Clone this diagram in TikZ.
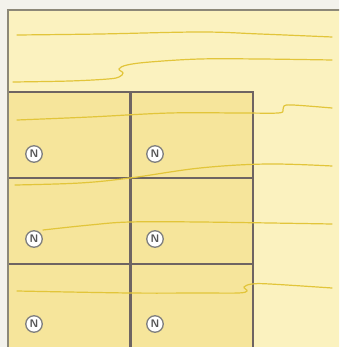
\documentclass[tikz,border=0pt]{standalone}
\usepackage{xcolor}
\usepackage{tikz}
\usetikzlibrary{positioning,calc}
\definecolor{paper}{HTML}{f3f2ec}
\definecolor{board}{HTML}{fbf2bf}
\definecolor{cell}{HTML}{f6e59b}
\definecolor{grain}{HTML}{e2c53a}
\definecolor{edge}{HTML}{8c8878}
\definecolor{gridline}{HTML}{6e6462}
\definecolor{mark}{HTML}{555555}

\begin{document}
\begin{tikzpicture}[
    x=1pt, y=-1pt,
    boardrect/.style={fill=board, draw=edge, line width=1.6pt},
    cellrect/.style={fill=cell, draw=gridline, line width=1.1pt},
    grainline/.style={draw=grain, line width=1.2pt, line cap=round},
    nmark/.style={
        circle, draw=mark!75, fill=white, text=mark, line width=1.3pt,
        minimum size=16.5pt, inner sep=0pt,
        font=\sffamily\bfseries\fontsize{11}{11}\selectfont
    },
]

% Rahmen
\clip (0,0) rectangle (339,347);
\fill[paper] (0,0) rectangle (339,347);
\draw[boardrect] (8,10) rectangle (360,370);

% Felder
\foreach \cx/\cy in {8/92,131/92,8/178,131/178,8/264,131/264} {
    \draw[cellrect] (\cx,\cy) rectangle ++(122,86);
}
\draw[edge, line width=1.6pt] (8,10) -- (8,370);

% Maserung
\draw[grainline] plot[smooth, tension=0.6] coordinates
    {(17,35) (100,34) (200,32) (260,34) (332,37)};
\draw[grainline] plot[smooth, tension=0.6] coordinates
    {(13,82) (70,81) (108,79) (119,77) (123,73) (119,69) (127,65) (150,62) (200,59) (260,59) (332,60)};
\draw[grainline] plot[smooth, tension=0.6] coordinates
    {(17,120) (90,117) (170,113) (240,113) (278,113) (283,110) (284,106) (293,105) (332,108)};
\draw[grainline] plot[smooth, tension=0.6] coordinates
    {(15,185) (80,183) (130,178) (200,168) (267,164) (332,166)};
\draw[grainline] plot[smooth, tension=0.6] coordinates
    {(43,230) (90,225) (130,222) (200,222) (332,224)};
\draw[grainline] plot[smooth, tension=0.6] coordinates
    {(17,291) (130,293) (200,293) (238,293) (247,291) (244,287) (252,284) (270,284) (332,288)};

% Markierungen
\node[nmark] (n11) at (34,154) {N};
\node[nmark] (n12) at (155,154) {N};
\node[nmark] (n21) at (34,239) {N};
\node[nmark] (n22) at (155,239) {N};
\node[nmark] (n31) at (34,324) {N};
\node[nmark] (n32) at (155,324) {N};

\end{tikzpicture}
\end{document}
